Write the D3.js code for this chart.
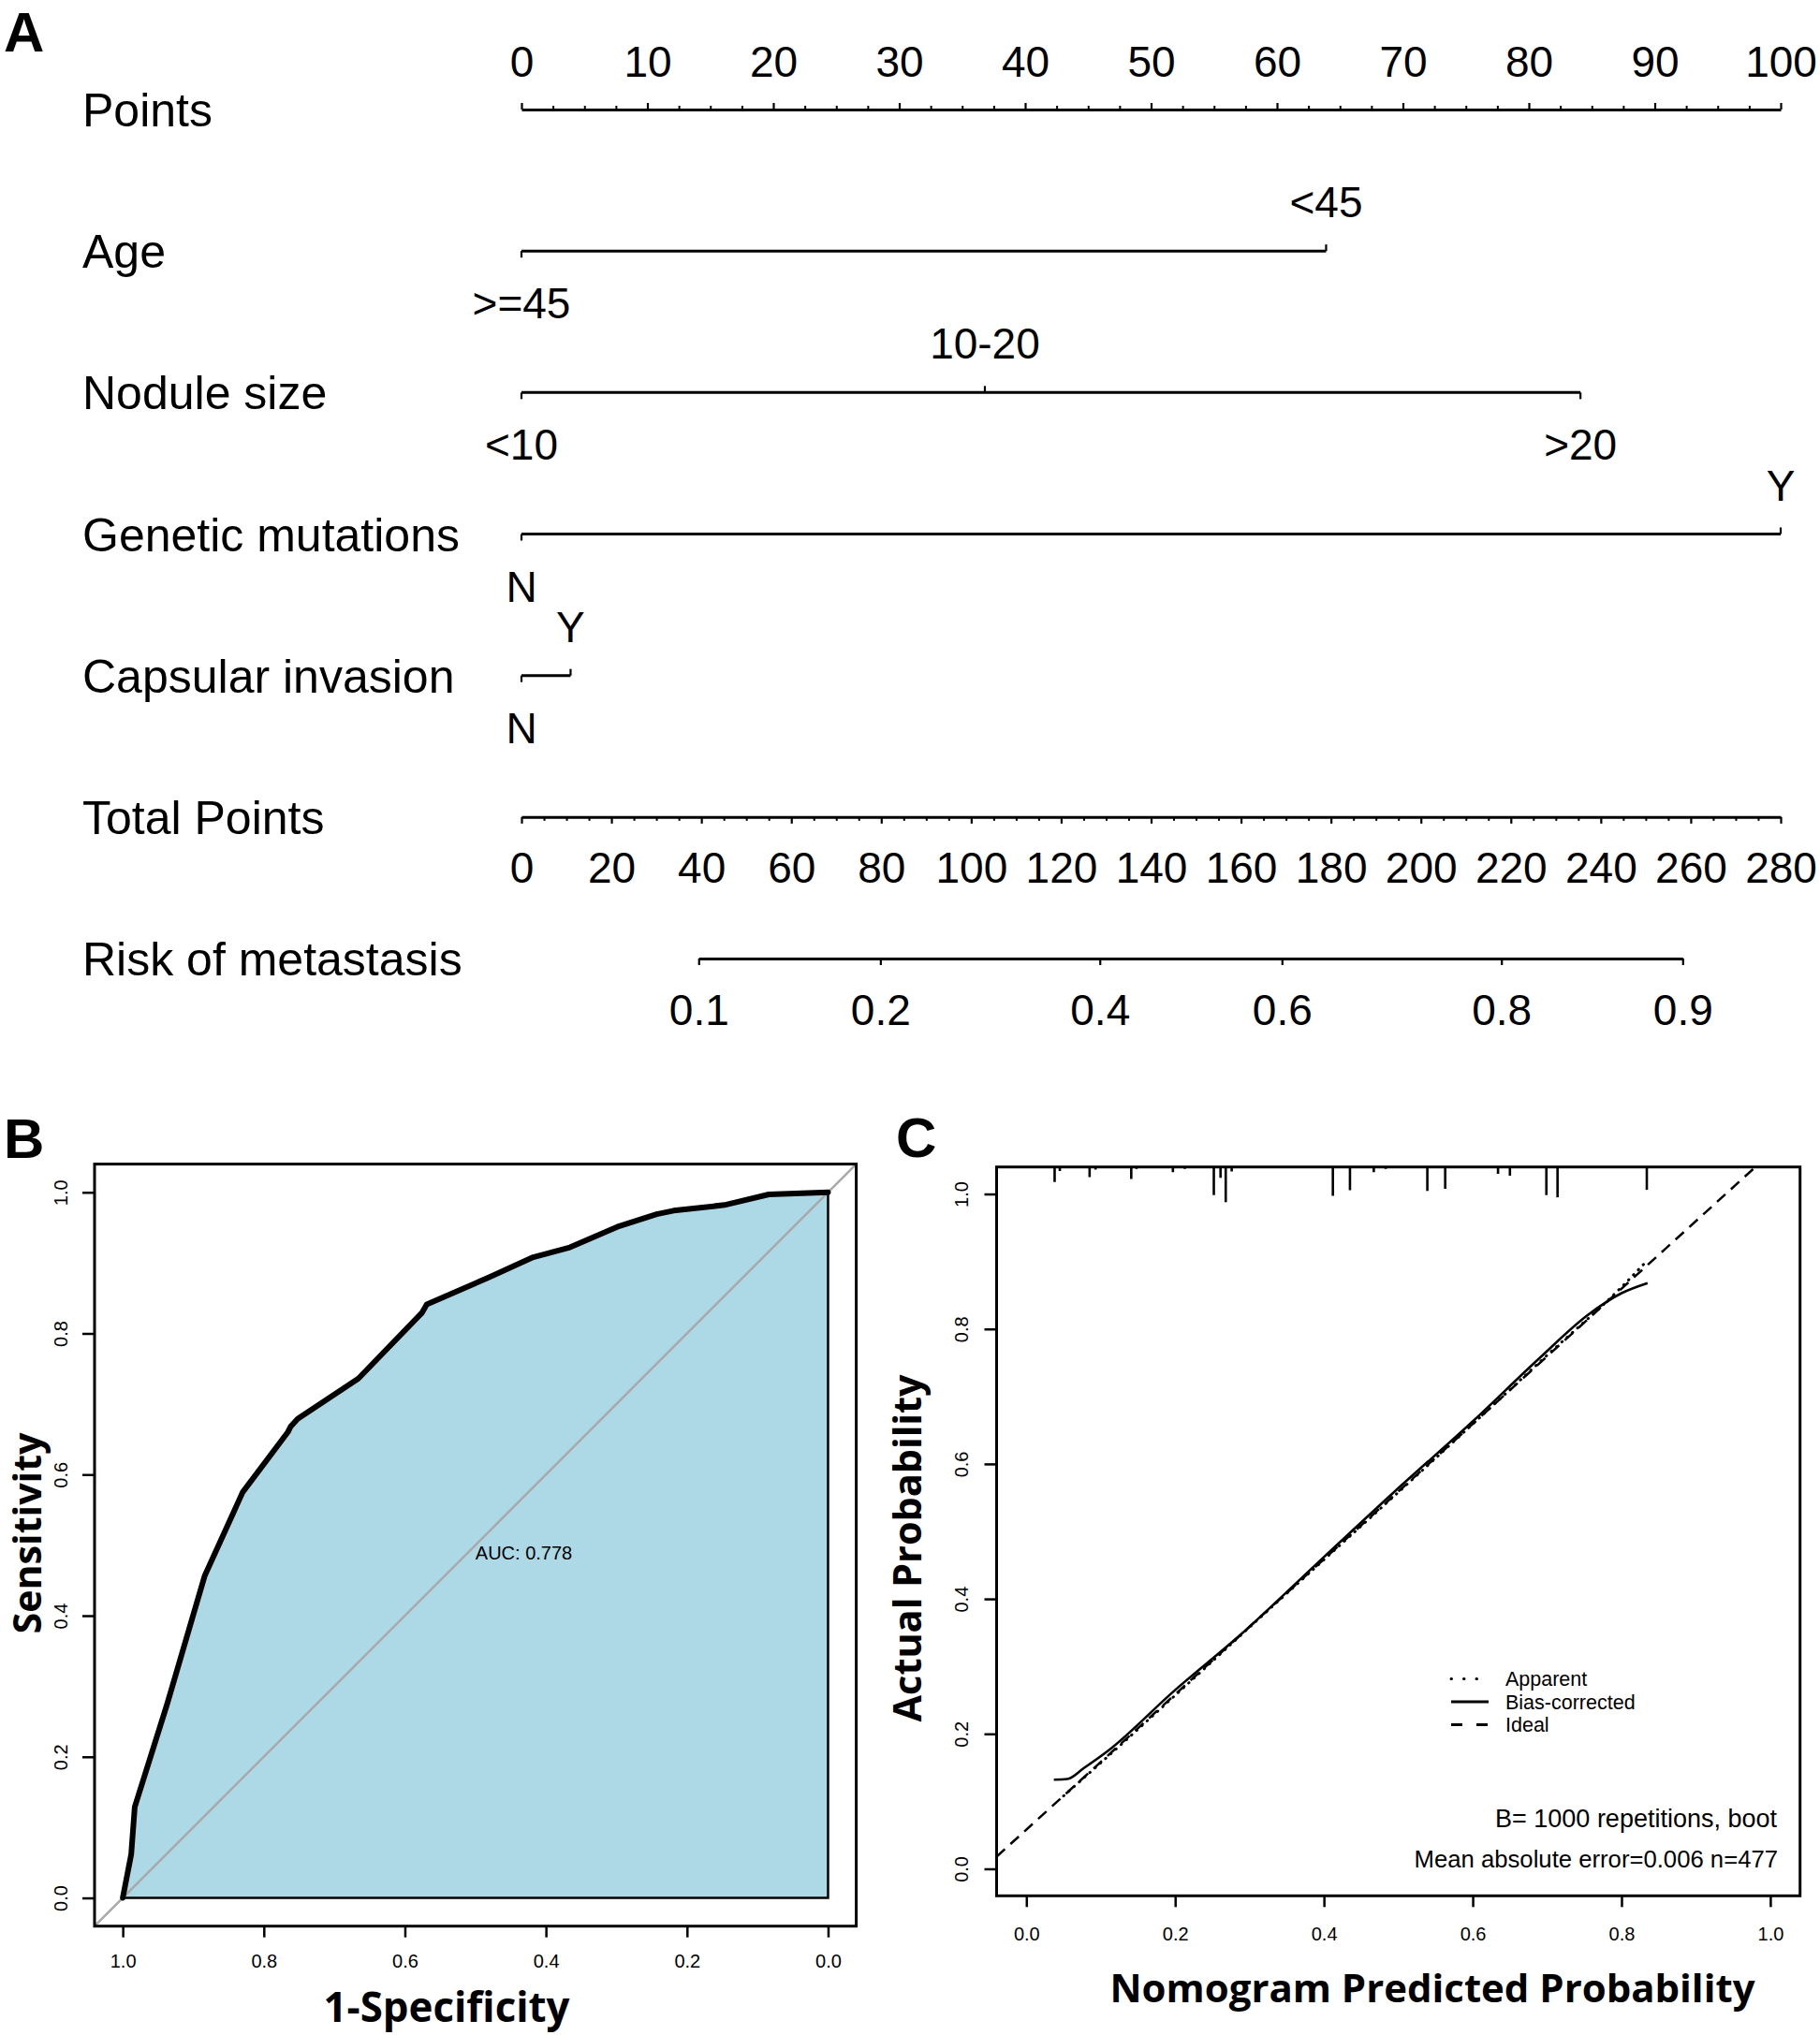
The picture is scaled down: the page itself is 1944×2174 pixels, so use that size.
<!DOCTYPE html>
<html><head><meta charset="utf-8">
<script src="https://cdn.jsdelivr.net/npm/d3@7"></script>
<style>body{margin:0;background:#fff;} svg{display:block;}</style>
</head><body>
<script>
// ================= DATA =================
// Panel A : nomogram
const pointsTicks = [0,10,20,30,40,50,60,70,80,90,100];
const totalPointsTicks = [0,20,40,60,80,100,120,140,160,180,200,220,240,260,280];
const riskTicks = [0.1,0.2,0.4,0.6,0.8,0.9];
const riskTotalPoints = [39.4,79.8,128.6,169.1,217.9,258.2];
const predictorNames = ["Age","Nodule size","Genetic mutations","Capsular invasion"];
const ageLevels = [">=45","<45"];
const agePoints = [0,63.9];
const noduleLevels = ["<10","10-20",">20"];
const nodulePoints = [0,36.8,84.1];
const geneticLevels = ["N","Y"];
const geneticPoints = [0,100];
const capsularLevels = ["N","Y"];
const capsularPoints = [0,3.9];

// Panel B : ROC
const rocSpecificity = [1.0,0.988,0.983,0.937,0.884,0.830,0.766,0.762,0.752,0.666,0.576,0.569,0.482,0.418,0.366,0.299,0.243,0.219,0.147,0.084,0.0];
const rocSensitivity = [0.0,0.062,0.129,0.275,0.456,0.575,0.660,0.668,0.679,0.736,0.829,0.841,0.879,0.908,0.922,0.951,0.969,0.974,0.982,0.997,1.0];
const aucValue = 0.778;
const rocTicks = [1.0,0.8,0.6,0.4,0.2,0.0];

// Panel C : calibration
const biasPredicted = [0.037,0.055,0.077,0.110,0.198,0.287,0.400,0.496,0.601,0.690,0.754,0.800,0.835];
const biasActual    = [0.132,0.133,0.149,0.175,0.263,0.346,0.462,0.560,0.664,0.757,0.820,0.853,0.868];
const apparentPredicted = [0.050,0.100,0.200,0.300,0.400,0.500,0.600,0.700,0.800,0.835];
const apparentActual    = [0.108,0.157,0.257,0.358,0.458,0.558,0.659,0.761,0.862,0.902];
const idealPredicted = [-0.04,0.98];
const idealActual    = [0.018,1.04];
const rugPredicted = [0.038,0.045,0.085,0.093,0.141,0.148,0.197,0.213,0.252,0.261,0.268,0.276,0.412,0.435,0.467,0.483,0.539,0.563,0.634,0.650,0.699,0.714,0.834];
const rugFreq      = [0.40,0.11,0.27,0.07,0.32,0.05,0.14,0.05,0.75,0.29,0.94,0.12,0.77,0.62,0.14,0.05,0.64,0.58,0.18,0.23,0.75,0.81,0.61];
const calTicks = [0,0.2,0.4,0.6,0.8,1.0];
const legendLabels = ["Apparent","Bias-corrected","Ideal"];
const bootText = "B= 1000 repetitions, boot";
const maeText = "Mean absolute error=0.006 n=477";

// ================= DRAW =================
const W = 1944, H = 2174;
const ARIAL = "'Liberation Sans', Arial, Helvetica, sans-serif";
const TITLE = "'Open Sans', 'Noto Sans', sans-serif";
const svg = d3.select("body").append("svg").attr("width", W).attr("height", H)
  .attr("viewBox", `0 0 ${W} ${H}`);
svg.append("rect").attr("width", W).attr("height", H).attr("fill", "#fff");

function fitWidth(sel, target) {
  const w = sel.node().getBBox().width;
  const fs = parseFloat(sel.attr("font-size"));
  sel.attr("font-size", (fs * target / w).toFixed(2));
}
function styleAxis(g, sw) {
  g.attr("font-family", null).attr("font-size", null);
  g.selectAll("line").attr("stroke", "#000").attr("stroke-width", sw);
  g.selectAll("path.domain").attr("stroke", "#000");
}

// ---------- Panel letters ----------
const letters = [{t:"A",x:4,y:55},{t:"B",x:4,y:1237},{t:"C",x:957,y:1236}];
svg.selectAll("text.letter").data(letters).join("text").attr("class","letter")
  .attr("x", d=>d.x).attr("y", d=>d.y).text(d=>d.t)
  .attr("font-family", ARIAL).attr("font-weight", "bold").attr("font-size", 60);

// ---------- Panel A ----------
const xPts = d3.scaleLinear().domain([0,100]).range([557,1902]);
const xTot = d3.scaleLinear().domain([0,280]).range([557,1902]);
const rowNames = ["Points", ...predictorNames, "Total Points", "Risk of metastasis"];
const yRow = d3.scalePoint().domain(rowNames).range([117,1024]);
const LAB = 50, TICKF = 46, LEVF = 46;

svg.append("g").selectAll("text").data(rowNames).join("text")
  .attr("x", 88).attr("y", d => yRow(d) + 18).text(d => d)
  .attr("font-family", ARIAL).attr("font-size", LAB);

// Points axis
const gP = svg.append("g").attr("transform", `translate(0,${yRow("Points")})`);
gP.append("g").call(d3.axisTop(xPts).tickValues(d3.range(0,100.01,2.5).filter(v => v % 10 !== 0))
  .tickSize(4).tickSizeOuter(0).tickFormat("")).call(g => { styleAxis(g,2); g.select(".domain").remove(); });
gP.append("g").call(d3.axisTop(xPts).tickValues(pointsTicks).tickSize(7).tickSizeOuter(0).tickFormat(d3.format("d")))
  .call(g => {
    styleAxis(g, 2.2);
    g.select(".domain").attr("stroke-width", 3);
    g.selectAll("text").attr("y", -35).attr("dy", null).attr("fill", "#000")
      .attr("font-family", ARIAL).attr("font-size", TICKF);
  });

// Predictor rows
const predictorData = [
  {name:"Age", levels:ageLevels, pts:agePoints},
  {name:"Nodule size", levels:noduleLevels, pts:nodulePoints},
  {name:"Genetic mutations", levels:geneticLevels, pts:geneticPoints},
  {name:"Capsular invasion", levels:capsularLevels, pts:capsularPoints}
];
const lineGen = d3.line();
predictorData.forEach(p => {
  const y = yRow(p.name);
  const g = svg.append("g");
  g.append("path").attr("d", lineGen([[xPts(d3.min(p.pts)), y],[xPts(d3.max(p.pts)), y]]))
    .attr("stroke", "#000").attr("stroke-width", 3).attr("fill", "none");
  p.levels.forEach((lv, i) => {
    const above = i % 2 === 1;
    const x = xPts(p.pts[i]);
    g.append("line").attr("x1", x).attr("x2", x).attr("y1", y).attr("y2", above ? y - 7 : y + 7)
      .attr("stroke", "#000").attr("stroke-width", 2.2);
    g.append("text").attr("x", x).attr("y", above ? y - 36 : y + 72)
      .attr("text-anchor", "middle").text(lv)
      .attr("font-family", ARIAL).attr("font-size", LEVF);
  });
});

// Total points axis
const gT = svg.append("g").attr("transform", `translate(0,${yRow("Total Points")})`);
gT.append("g").call(d3.axisBottom(xTot).tickValues(d3.range(0,280.01,5).filter(v => v % 20 !== 0))
  .tickSize(4).tickSizeOuter(0).tickFormat("")).call(g => { styleAxis(g,2); g.select(".domain").remove(); });
gT.append("g").call(d3.axisBottom(xTot).tickValues(totalPointsTicks).tickSize(7).tickSizeOuter(0).tickFormat(d3.format("d")))
  .call(g => {
    styleAxis(g, 2.2);
    g.select(".domain").attr("stroke-width", 3);
    g.selectAll("text").attr("y", 70).attr("dy", null).attr("fill", "#000")
      .attr("font-family", ARIAL).attr("font-size", TICKF);
  });

// Risk axis
const xRisk = d3.scaleLinear().domain(riskTicks).range(riskTotalPoints.map(v => xTot(v)));
svg.append("g").attr("transform", `translate(0,${yRow("Risk of metastasis")})`)
  .call(d3.axisBottom(xRisk).tickValues(riskTicks).tickSize(7).tickSizeOuter(0).tickFormat(d3.format(".1f")))
  .call(g => {
    styleAxis(g, 2.2);
    g.select(".domain").attr("stroke-width", 3);
    g.selectAll("text").attr("y", 71).attr("dy", null).attr("fill", "#000")
      .attr("font-family", ARIAL).attr("font-size", TICKF);
  });

// ---------- Panel B : ROC ----------
const xB = d3.scaleLinear().domain([1.04,-0.04]).range([101,914.6]);
const yB = d3.scaleLinear().domain([-0.04,1.04]).range([2057.7,1243.6]);
const gB = svg.append("g");
const rocPts = rocSpecificity.map((s,i) => [xB(s), yB(rocSensitivity[i])]);
const polyPts = rocPts.concat([[xB(0), yB(0)], [xB(1), yB(0)]]);
gB.append("path").attr("d", d3.line()(polyPts) + "Z")
  .attr("fill", "#ADD8E6").attr("stroke", "#000").attr("stroke-width", 2.5);
gB.append("path").attr("d", d3.line()([[xB(1.04), yB(-0.04)], [xB(-0.04), yB(1.04)]]))
  .attr("stroke", "#A9A9A9").attr("stroke-width", 2.5);
gB.append("path").attr("d", d3.line()(rocPts)).attr("fill", "none")
  .attr("stroke", "#000").attr("stroke-width", 6).attr("stroke-linejoin", "round").attr("stroke-linecap", "round");
gB.append("text").attr("x", xB(0.5)).attr("y", yB(0.5) + 15).text("AUC: " + aucValue)
  .attr("font-family", ARIAL).attr("font-size", 20);
gB.append("rect").attr("x", 101).attr("y", 1243.6).attr("width", 914.6 - 101).attr("height", 2057.7 - 1243.6)
  .attr("fill", "none").attr("stroke", "#000").attr("stroke-width", 3);
gB.append("g").attr("transform", "translate(0,2057.7)")
  .call(d3.axisBottom(xB).tickValues(rocTicks).tickSize(12).tickSizeOuter(0).tickFormat(d3.format(".1f")))
  .call(g => {
    styleAxis(g, 2.5); g.select(".domain").remove();
    g.selectAll("text").attr("y", 44).attr("dy", null).attr("fill", "#000")
      .attr("font-family", ARIAL).attr("font-size", 20);
  });
gB.append("g").attr("transform", "translate(101,0)")
  .call(d3.axisLeft(yB).tickValues(rocTicks.slice().reverse()).tickSize(13).tickSizeOuter(0).tickFormat(d3.format(".1f")))
  .call(g => {
    styleAxis(g, 2.5); g.select(".domain").remove();
    g.selectAll("text").attr("x", null).attr("dy", null).attr("text-anchor", "middle")
      .attr("transform", "translate(-29,0) rotate(-90)").attr("fill", "#000")
      .attr("font-family", ARIAL).attr("font-size", 20);
  });
const tB1 = gB.append("text").attr("x", 477).attr("y", 2160).attr("text-anchor", "middle")
  .text("1-Specificity").attr("font-family", TITLE).attr("font-weight", "bold").attr("font-size", 44);
fitWidth(tB1, 264);
const tB2 = gB.append("text").attr("text-anchor", "middle")
  .attr("transform", "translate(44,1638) rotate(-90)")
  .text("Sensitivity").attr("font-family", TITLE).attr("font-weight", "bold").attr("font-size", 44);
fitWidth(tB2, 216);

// ---------- Panel C : calibration ----------
const xC = d3.scaleLinear().domain([-0.04,1.04]).range([1064.5,1922.7]);
const yC = d3.scaleLinear().domain([-0.04,1.04]).range([2025.3,1246.7]);
const gC = svg.append("g");
gC.append("clipPath").attr("id", "clipC").append("rect")
  .attr("x", 1064.5).attr("y", 1246.7).attr("width", 1922.7 - 1064.5).attr("height", 2025.3 - 1246.7);
const plotC = gC.append("g").attr("clip-path", "url(#clipC)");
const lineC = d3.line().x(d => xC(d[0])).y(d => yC(d[1]));
plotC.append("path").attr("d", lineC(idealPredicted.map((v,i) => [v, idealActual[i]])))
  .attr("fill", "none").attr("stroke", "#000").attr("stroke-width", 2.5).attr("stroke-dasharray", "12,8");
plotC.append("path").attr("d", lineC.curve(d3.curveMonotoneX)(apparentPredicted.map((v,i) => [v, apparentActual[i]])))
  .attr("fill", "none").attr("stroke", "#000").attr("stroke-width", 3)
  .attr("stroke-dasharray", "0.5,7").attr("stroke-linecap", "round");
plotC.append("path").attr("d", lineC.curve(d3.curveMonotoneX)(biasPredicted.map((v,i) => [v, biasActual[i]])))
  .attr("fill", "none").attr("stroke", "#000").attr("stroke-width", 2.6);
// rug (distribution of predictions)
const rugLen = d3.scaleLinear().domain([0,1]).range([0,40]);
plotC.selectAll("line.rug").data(rugPredicted).join("line").attr("class","rug")
  .attr("x1", d => xC(d)).attr("x2", d => xC(d))
  .attr("y1", 1246.7).attr("y2", (d,i) => 1246.7 + rugLen(rugFreq[i]))
  .attr("stroke", "#000").attr("stroke-width", 2.6);
gC.append("rect").attr("x", 1064.5).attr("y", 1246.7).attr("width", 1922.7 - 1064.5).attr("height", 2025.3 - 1246.7)
  .attr("fill", "none").attr("stroke", "#000").attr("stroke-width", 3);
gC.append("g").attr("transform", "translate(0,2025.3)")
  .call(d3.axisBottom(xC).tickValues(calTicks).tickSize(12).tickSizeOuter(0).tickFormat(d3.format(".1f")))
  .call(g => {
    styleAxis(g, 2.5); g.select(".domain").remove();
    g.selectAll("text").attr("y", 48).attr("dy", null).attr("fill", "#000")
      .attr("font-family", ARIAL).attr("font-size", 20);
  });
gC.append("g").attr("transform", "translate(1064.5,0)")
  .call(d3.axisLeft(yC).tickValues(calTicks).tickSize(13).tickSizeOuter(0).tickFormat(d3.format(".1f")))
  .call(g => {
    styleAxis(g, 2.5); g.select(".domain").remove();
    g.selectAll("text").attr("x", null).attr("dy", null).attr("text-anchor", "middle")
      .attr("transform", "translate(-30.5,0) rotate(-90)").attr("fill", "#000")
      .attr("font-family", ARIAL).attr("font-size", 20);
  });
// legend
const legStyles = [
  {dash:"0.5,13", w:3, cap:"round"},
  {dash:null, w:3, cap:"butt"},
  {dash:"12,15", w:3, cap:"butt"}
];
const yLeg = d3.scalePoint().domain(legendLabels).range([1793.5,1842.5]);
legendLabels.forEach((lab, i) => {
  const y = yLeg(lab);
  gC.append("line").attr("x1", 1550).attr("x2", 1590).attr("y1", y).attr("y2", y)
    .attr("stroke", "#000").attr("stroke-width", legStyles[i].w)
    .attr("stroke-dasharray", legStyles[i].dash).attr("stroke-linecap", legStyles[i].cap);
  gC.append("text").attr("x", 1608).attr("y", y + 7.7).text(lab)
    .attr("font-family", ARIAL).attr("font-size", 21.5);
});
gC.append("text").attr("x", 1898).attr("y", 1952).attr("text-anchor", "end").text(bootText)
  .attr("font-family", ARIAL).attr("font-size", 27);
gC.append("text").attr("x", 1899).attr("y", 1995).attr("text-anchor", "end").text(maeText)
  .attr("font-family", ARIAL).attr("font-size", 25.7);
const tC1 = gC.append("text").attr("x", 1530).attr("y", 2139).attr("text-anchor", "middle")
  .text("Nomogram Predicted Probability").attr("font-family", TITLE).attr("font-weight", "bold").attr("font-size", 44);
fitWidth(tC1, 690);
const tC2 = gC.append("text").attr("text-anchor", "middle")
  .attr("transform", "translate(984,1654) rotate(-90)")
  .text("Actual Probability").attr("font-family", TITLE).attr("font-weight", "bold").attr("font-size", 44);
fitWidth(tC2, 372);
</script>
</body></html>
